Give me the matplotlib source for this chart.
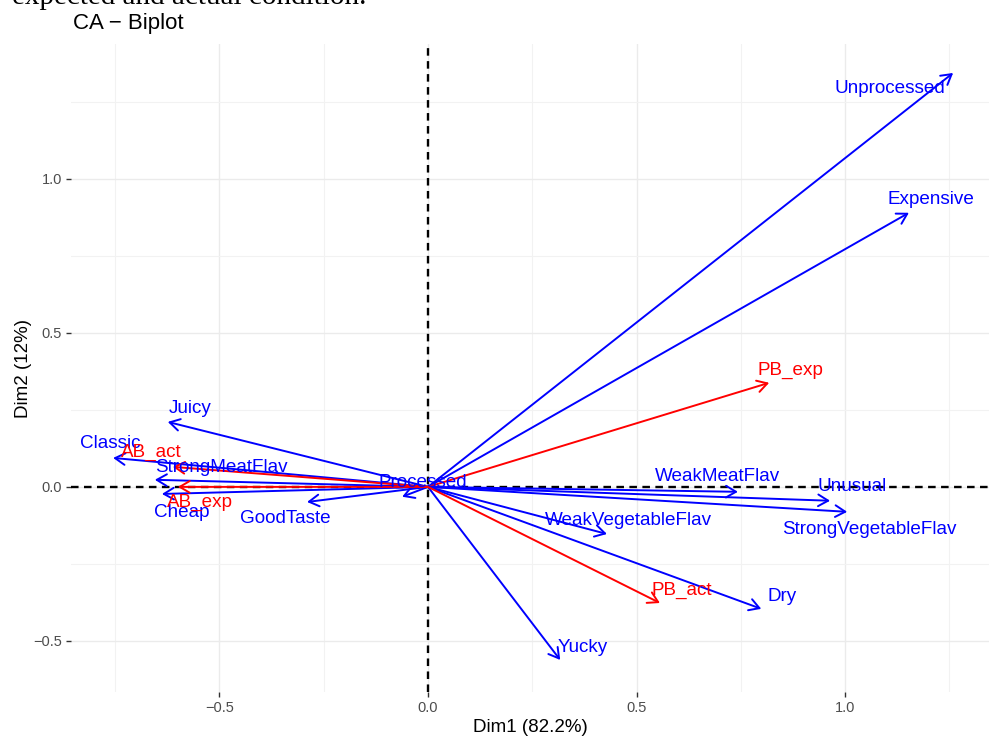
import matplotlib
matplotlib.use("Agg")
import matplotlib.pyplot as plt
import numpy as np

# ---- data ----
row_names = ["AB_exp", "AB_act", "PB_exp", "PB_act"]
row_dim1 = [-0.600, -0.612, 0.818, 0.556]
row_dim2 = [0.000, 0.065, 0.338, -0.377]

col_names = ["Unprocessed", "Expensive", "Juicy", "Classic", "StrongMeatFlav",
             "Cheap", "GoodTaste", "Processed", "WeakMeatFlav", "Unusual",
             "StrongVegetableFlav", "WeakVegetableFlav", "Dry", "Yucky"]
col_dim1 = [1.259, 1.153, -0.624, -0.755, -0.655,
            -0.638, -0.290, -0.062, 0.743, 0.964,
            1.005, 0.429, 0.799, 0.317]
col_dim2 = [1.344, 0.890, 0.211, 0.094, 0.023,
            -0.023, -0.049, -0.032, -0.016, -0.045,
            -0.081, -0.153, -0.396, -0.562]

x_ticks = [-0.5, 0.0, 0.5, 1.0]
y_ticks = [-0.5, 0.0, 0.5, 1.0]
x_label = "Dim1 (82.2%)"
y_label = "Dim2 (12%)"
title = "CA \u2212 Biplot"
caption_top = "expected and actual condition."

# ---- layout: label offsets in pixels (dx, dy) from arrow tip ----
label_offsets = {
    "AB_exp": (22, -16), "AB_act": (-21, 14), "PB_exp": (21, 12), "PB_act": (22, 13),
    "Unprocessed": (-63, -16), "Expensive": (22, 13), "Juicy": (22, 13),
    "Classic": (-3, 14), "StrongMeatFlav": (67, 12), "Cheap": (20, -19),
    "GoodTaste": (-22, -17), "Processed": (21, 14), "WeakMeatFlav": (-20, 15),
    "Unusual": (22, 14), "StrongVegetableFlav": (22, -18),
    "WeakVegetableFlav": (22, 14), "Dry": (21, 12), "Yucky": (23, 12),
}

W, H = 989, 738
fig = plt.figure(figsize=(W / 100, H / 100), dpi=100)
fig.patch.set_facecolor("white")
ax_left, ax_right, ax_top, ax_bottom = 71, 989, 44, 692
ax = fig.add_axes([ax_left / W, 1 - ax_bottom / H, (ax_right - ax_left) / W, (ax_bottom - ax_top) / H])

FONT = "Liberation Sans"

ax.set_xlim(-0.856, 1.345)
ax.set_ylim(-0.666, 1.438)

for s in ax.spines.values():
    s.set_visible(False)

ax.set_xticks(x_ticks)
ax.set_yticks(y_ticks)
ax.set_xticks([-0.75, -0.25, 0.25, 0.75, 1.25], minor=True)
ax.set_yticks([-0.25, 0.25, 0.75, 1.25], minor=True)
ax.set_xticklabels([f"{v:.1f}".replace("-", "\u2212") for v in x_ticks], fontfamily=FONT, fontsize=10.5, color="#4D4D4D")
ax.set_yticklabels([f"{v:.1f}".replace("-", "\u2212") for v in y_ticks], fontfamily=FONT, fontsize=10.5, color="#4D4D4D")
ax.tick_params(axis="both", which="major", length=3.5, width=1.0, color="#333333", pad=3)
ax.tick_params(axis="both", which="minor", length=0)
ax.grid(True, which="major", color="#EBEBEB", lw=1.0)
ax.grid(True, which="minor", color="#F2F2F2", lw=0.8)
ax.set_axisbelow(True)

ax.set_xlabel(x_label, fontfamily=FONT, fontsize=13.5, color="black", labelpad=3)
ax.set_ylabel(y_label, fontfamily=FONT, fontsize=13.5, color="black", labelpad=1)

ax.axhline(0, color="black", lw=1.7, ls=(0, (3.2, 2.3)), zorder=1)
ax.axvline(0, color="black", lw=1.7, ls=(0, (3.2, 2.3)), zorder=1)

arrow_kw = dict(arrowstyle="->,head_length=0.6,head_width=0.35", lw=1.4,
                shrinkA=0, shrinkB=0, mutation_scale=12)

def draw(names, xs, ys, color):
    for n, x, y in zip(names, xs, ys):
        ax.annotate("", xy=(x, y), xytext=(0, 0),
                    arrowprops=dict(color=color, **arrow_kw), zorder=3)
    for n, x, y in zip(names, xs, ys):
        dx, dy = label_offsets[n]
        ax.annotate(n, xy=(x, y), xytext=(dx, dy), textcoords="offset pixels",
                    ha="center", va="center", color=color, fontfamily=FONT,
                    fontsize=13.6, zorder=4)

draw(col_names, col_dim1, col_dim2, "#0000FF")
draw(row_names, row_dim1, row_dim2, "#FF0000")

fig.text(73 / W, 1 - 29 / H, title, fontfamily=FONT, fontsize=16, color="black",
         ha="left", va="baseline")
fig.text(12 / W, 1 - 4 / H, caption_top, fontfamily="Liberation Serif", fontsize=21,
         color="black", ha="left", va="baseline")

fig.savefig("out.png", dpi=100, facecolor="white")
